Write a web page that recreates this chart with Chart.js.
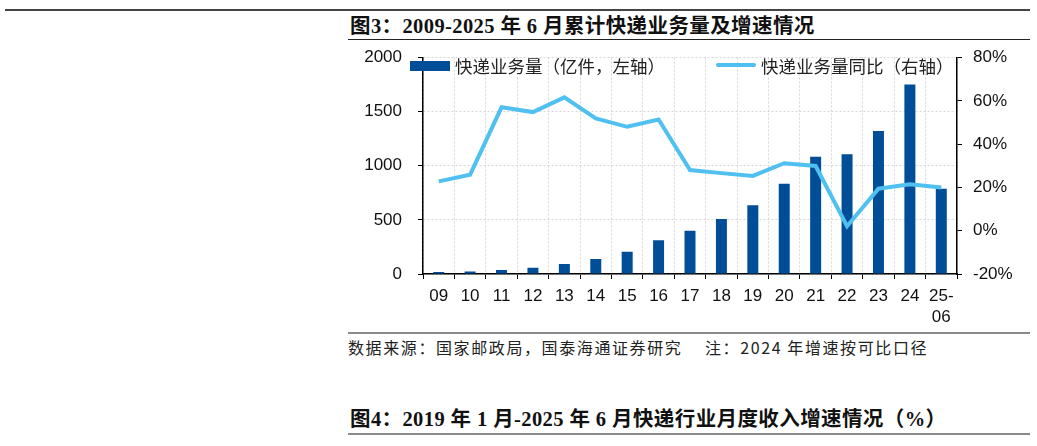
<!DOCTYPE html>
<html>

<head>
    <meta charset="utf-8">
    <title>2009-2025年6月累计快递业务量及增速情况</title>
    <style>
        body {
            margin: 0;
            background: #fff;
            width: 1037px;
            height: 446px;
            position: relative;
            overflow: hidden;
            font-family: "Noto Sans CJK SC", sans-serif;
            color: #111;
        }

        .rule {
            position: absolute;
            left: 348px;
            width: 682px;
        }

        .title {
            position: absolute;
            left: 350px;
            font-family: "Liberation Serif", "Noto Sans CJK SC", serif;
            font-weight: bold;
            font-size: 20.5px;
            line-height: 24px;
            letter-spacing: 0.4px;
            white-space: nowrap;
        }

        .note {
            position: absolute;
            top: 336px;
            font-size: 16px;
            line-height: 22px;
            letter-spacing: 1.6px;
            white-space: nowrap;
            color: #222;
        }

        .legend-text {
            position: absolute;
            top: 55px;
            font-size: 17.5px;
            line-height: 22px;
            white-space: nowrap;
            color: #222;
        }

        #canvas-container {
            position: absolute;
            left: 340px;
            top: 31px;
            width: 697px;
            height: 299px;
        }
    </style>
    <script src="https://cdn.jsdelivr.net/npm/chart.js"></script>
</head>

<body>
    <div class="rule" style="left:5px; width:1025px; top:9px; border-top:2px solid #444;"></div>
    <div class="title" style="top:14px;">图3：2009-2025 年 6 月累计快递业务量及增速情况</div>
    <div class="rule" style="top:39px; border-top:1px solid #222;"></div>

    <div id="canvas-container">
        <canvas id="myChart"></canvas>
    </div>

    <!-- legend sits inside the plot, top edge -->
    <div style="position:absolute; left:410px; top:61px; width:40px; height:10px; background:#004e98;"></div>
    <div class="legend-text" style="left:455px;">快递业务量（亿件，左轴）</div>
    <div style="position:absolute; left:716px; top:63px; width:40px; height:4px; border-radius:2px; background:#4fc0ef;"></div>
    <div class="legend-text" style="left:761px;">快递业务量同比（右轴）</div>

    <div class="rule" style="top:332px; border-top:2px solid #8a8a8a;"></div>
    <div class="note" style="left:348px;">数据来源：国家邮政局，国泰海通证券研究</div>
    <div class="note" style="left:705px;">注：2024 年增速按可比口径</div>

    <div class="title" style="top:407px;">图4：2019 年 1 月-2025 年 6 月快递行业月度收入增速情况（%）</div>
    <div class="rule" style="top:433px; border-top:2px solid #8a8a8a;"></div>

    <script>
        // year labels, last one is the H1 2025 cumulative
        const categories = ['09', '10', '11', '12', '13', '14', '15', '16', '17', '18', '19', '20', '21', '22', '23', '24', ['25-', '06']];

        // express volume, 100 million pieces (left axis)
        const volume = [18.6, 23.4, 36.7, 56.9, 91.9, 139.6, 206.7, 312.8, 400.6, 507.1, 635.2, 833.6, 1083.0, 1105.8, 1320.7, 1750.8, 787];

        // year-on-year growth, % (right axis)
        const growth = [22.8, 25.9, 57.0, 54.8, 61.6, 51.9, 48.0, 51.4, 28.0, 26.6, 25.3, 31.2, 29.9, 2.1, 19.4, 21.5, 20.0];

        const leftTicks = { min: 0, max: 2000, step: 500 };
        const rightTicks = { min: -20, max: 80, step: 20 };

        const tickFont = { family: '"Liberation Sans", Arial, sans-serif', size: 17, lineHeight: 1.24 };

        const canvas = document.getElementById('myChart');
        const ctx = canvas.getContext('2d');

        const myChart = new Chart(ctx, {
            data: {
                labels: categories,
                datasets: [{
                    type: 'bar',
                    label: '快递业务量（亿件，左轴）',
                    data: volume,
                    backgroundColor: '#004e98',
                    barPercentage: 0.35,
                    categoryPercentage: 1,
                    yAxisID: 'y',
                    order: 1
                }, {
                    type: 'line',
                    label: '快递业务量同比（右轴）',
                    data: growth,
                    borderColor: '#4fc0ef',
                    borderWidth: 4,
                    pointRadius: 0,
                    tension: 0,
                    yAxisID: 'y1',
                    order: 0
                }]
            },
            options: {
                responsive: true,
                maintainAspectRatio: false,
                animation: false,
                layout: { padding: { top: 6, left: 0, right: 0, bottom: 0 } },
                plugins: {
                    legend: { display: false },
                    tooltip: { enabled: false }
                },
                scales: {
                    x: {
                        offset: true,
                        grid: {
                            offset: true,
                            color: '#d6d6d6',
                            tickColor: '#000',
                            tickLength: 5
                        },
                        border: { color: '#000', width: 1.5, dash: [2, 2] },
                        ticks: {
                            font: tickFont,
                            color: '#111',
                            padding: 7,
                            autoSkip: false,
                            maxRotation: 0
                        },
                        afterFit: (scale) => { scale.height = 56; }
                    },
                    y: {
                        position: 'left',
                        min: leftTicks.min,
                        max: leftTicks.max,
                        grid: {
                            color: '#d6d6d6',
                            tickColor: '#000',
                            tickLength: 5
                        },
                        border: { color: '#000', width: 1.5, dash: [2, 2] },
                        ticks: {
                            stepSize: leftTicks.step,
                            font: tickFont,
                            color: '#111',
                            padding: 16,
                            callback: (v) => String(v)
                        },
                        afterFit: (scale) => { scale.width = 83; }
                    },
                    y1: {
                        position: 'right',
                        min: rightTicks.min,
                        max: rightTicks.max,
                        grid: {
                            drawOnChartArea: false,
                            color: '#000',
                            tickColor: '#000',
                            tickLength: 5
                        },
                        border: { color: '#000', width: 1.5 },
                        ticks: {
                            stepSize: rightTicks.step,
                            font: tickFont,
                            color: '#111',
                            padding: 11,
                            callback: (v) => v + '%'
                        },
                        afterFit: (scale) => { scale.width = 80; }
                    }
                }
            }
        });
    </script>
</body>

</html>
